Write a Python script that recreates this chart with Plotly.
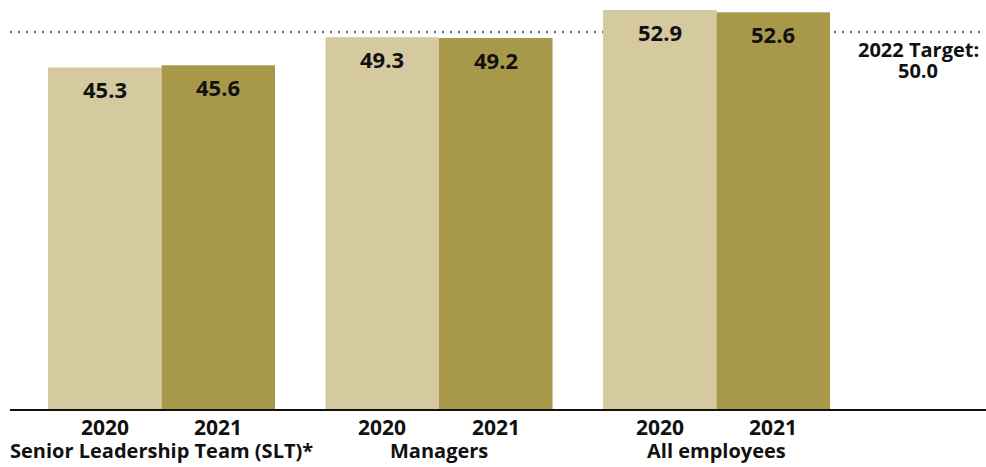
import plotly.graph_objects as go

# Share of women (%) by employee group, 2020 vs 2021
groups = ["Senior Leadership Team (SLT)*", "Managers", "All employees"]
years = ["2020", "2021"]
values_2020 = [45.3, 49.3, 52.9]
values_2021 = [45.6, 49.2, 52.6]
target_value = 50.0
target_lines = ["2022 Target:", "50.0"]

colors = {"2020": "#D5C9A0", "2021": "#A8984A"}
FONT = "'Open Sans', 'Noto Sans', sans-serif"
TXT = "#111111"
BARGAP = 0.182
bar_w = (1 - BARGAP) / 2

x_idx = list(range(len(groups)))

fig = go.Figure()
for yr, vals in zip(years, [values_2020, values_2021]):
    fig.add_trace(go.Bar(
        x=x_idx, y=vals, name=yr,
        marker=dict(color=colors[yr], line=dict(width=0)),
        hoverinfo="skip",
    ))

annotations = []
for k, (yr, vals) in enumerate(zip(years, [values_2020, values_2021])):
    off = (k - 0.5) * bar_w
    for i, v in enumerate(vals):
        # value label near the top, inside the bar
        annotations.append(dict(
            x=i + off, y=v, xref="x", yref="y", text=f"{v:.1f}",
            showarrow=False, yanchor="middle", yshift=-22,
            font=dict(family=FONT, size=22, color=TXT, weight="bold"),
        ))
        # year label under each bar
        annotations.append(dict(
            x=i + off, y=0, xref="x", yref="y", text=yr,
            showarrow=False, yanchor="middle", yshift=-18,
            font=dict(family=FONT, size=21, color=TXT, weight="bold"),
        ))

# group names below the year labels
for i, g in enumerate(groups):
    annotations.append(dict(
        x=i, y=0, xref="x", yref="y", text=g,
        showarrow=False, yanchor="middle", yshift=-41,
        font=dict(family=FONT, size=20, color=TXT, weight="bold"),
    ))

# target caption, right of the last group
for j, line in enumerate(target_lines):
    annotations.append(dict(
        x=(918 - 10) / 976, xref="paper", xanchor="center",
        y=target_value, yref="y", yanchor="middle",
        yshift=-18 - 21 * j, text=line, showarrow=False,
        font=dict(family=FONT, size=20, color=TXT, weight="bold"),
    ))

fig.add_shape(
    type="line", xref="paper", yref="y", x0=0, x1=1,
    y0=target_value, y1=target_value, layer="below",
    line=dict(color="#707070", width=2.5, dash="2px,6px"),
)

fig.update_layout(
    width=986, height=467,
    margin=dict(l=10, r=0, t=0, b=58),
    paper_bgcolor="white", plot_bgcolor="white",
    barmode="group", bargap=BARGAP, bargroupgap=0,
    showlegend=False,
    annotations=annotations,
    xaxis=dict(
        range=[-0.546, 2.971], showticklabels=False, showgrid=False,
        zeroline=False, showline=True, linecolor="#111111", linewidth=2,
        ticks="",
    ),
    yaxis=dict(
        range=[0, 54.24], visible=False, showgrid=False, zeroline=False,
    ),
)

fig.write_html("out.html")
